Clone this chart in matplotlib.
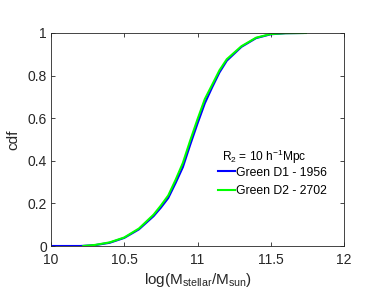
import matplotlib
matplotlib.use('Agg')
import matplotlib.pyplot as plt

# cdf of stellar mass
x_d1 = [10.0, 10.2, 10.3, 10.4, 10.5, 10.6, 10.7, 10.75, 10.8, 10.85, 10.9, 10.95,
        11.0, 11.05, 11.1, 11.15, 11.2, 11.3, 11.4, 11.5, 11.6, 11.72]
cdf_d1 = [0.0, 0.0, 0.004, 0.015, 0.038, 0.078, 0.14, 0.18, 0.225, 0.295, 0.37, 0.475,
          0.575, 0.67, 0.745, 0.815, 0.87, 0.935, 0.976, 0.994, 0.999, 1.0]
x_d2 = [10.22, 10.3, 10.4, 10.5, 10.6, 10.7, 10.75, 10.8, 10.85, 10.9, 10.95,
        11.0, 11.05, 11.1, 11.15, 11.2, 11.3, 11.4, 11.5, 11.6, 11.74]
cdf_d2 = [0.0, 0.005, 0.017, 0.04, 0.082, 0.147, 0.19, 0.237, 0.31, 0.39, 0.495,
          0.595, 0.69, 0.757, 0.825, 0.877, 0.938, 0.978, 0.995, 0.999, 1.0]

labels = ['Green D1 - 1956', 'Green D2 - 2702']
legend_title = r'R$_2$ = 10 h$^{-1}$Mpc'
xticks = [10, 10.5, 11, 11.5, 12]
xticklabels = ['10', '10.5', '11', '11.5', '12']
yticks = [0, 0.2, 0.4, 0.6, 0.8, 1]
yticklabels = ['0', '0.2', '0.4', '0.6', '0.8', '1']

plt.rcParams['font.family'] = ['Liberation Sans', 'DejaVu Sans']
plt.rcParams['mathtext.fontset'] = 'custom'
plt.rcParams['mathtext.rm'] = 'Liberation Sans'
plt.rcParams['mathtext.it'] = 'Liberation Sans'
plt.rcParams['font.size'] = 10

fig = plt.figure(figsize=(3.82, 3.05), dpi=100)
ax = fig.add_axes([51/382, 1 - 246/305, 293/382, 213/305])

ax.plot(x_d1, cdf_d1, color=(0, 0, 1), lw=1.5, label=labels[0])
ax.plot(x_d2, cdf_d2, color=(0, 1, 0), lw=1.5, label=labels[1])

ax.set_xlim(10, 12)
ax.set_ylim(0, 1)
ax.set_xticks(xticks)
ax.set_xticklabels(xticklabels)
ax.set_yticks(yticks)
ax.set_yticklabels(yticklabels)
ax.tick_params(direction='in', top=True, right=True, length=3, width=0.6,
               colors='#262626', labelsize=10)
ax.tick_params(axis='x', pad=5)
ax.tick_params(axis='y', pad=3)
for s in ax.spines.values():
    s.set_color('#262626')
    s.set_linewidth(0.6)

ax.set_xlabel(r'log(M$_{\mathrm{stellar}}$/M$_{\mathrm{sun}}$)', fontsize=11,
              color='#262626', labelpad=3)
ax.set_ylabel('cdf', fontsize=11, color='#262626', labelpad=5)

# legend title drawn separately so it sits tight above the entries
ax.text(0.584, 0.399, legend_title, transform=ax.transAxes, fontsize=8.6,
        color='black', ha='left', va='baseline')
leg = ax.legend(frameon=False, loc='upper left', bbox_to_anchor=(0.570, 0.372),
                fontsize=8.8, handlelength=1.36, handletextpad=0.1,
                labelspacing=0.5, borderpad=0, borderaxespad=0)

fig.savefig('out.png', dpi=100)
